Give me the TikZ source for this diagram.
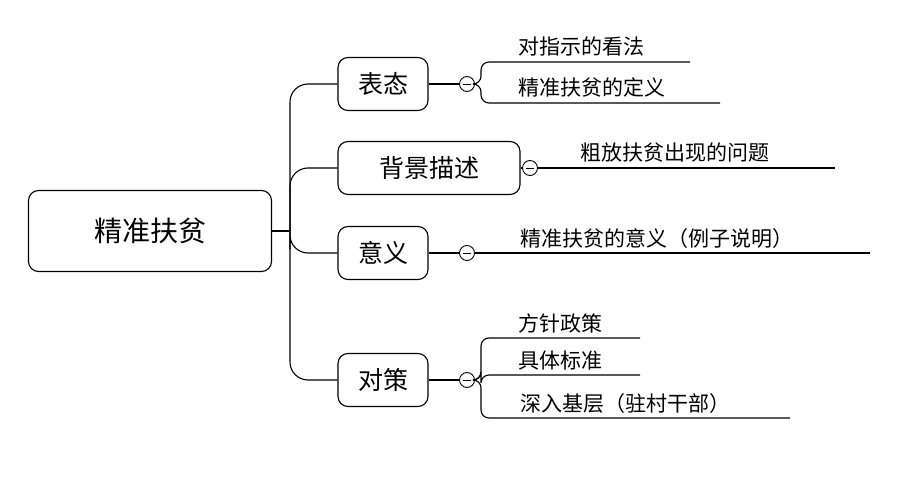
\documentclass[tikz,border=0pt]{standalone}
\usepackage{fontspec}
\newfontfamily\cjk{Noto Sans CJK SC}
\usetikzlibrary{positioning}

\begin{document}
\begin{tikzpicture}[x=1pt,y=-1pt,font=\cjk,line width=1.1pt]
	\tikzstyle{topic}=[draw,rounded corners=10pt,minimum height=53pt,inner sep=0pt]
	\tikzstyle{fold}=[draw,circle,minimum size=15pt,inner sep=0pt,line width=0.9pt]
	\tikzstyle{leaf}=[anchor=base west,inner sep=0pt,font=\cjk\fontsize{21}{21}\selectfont]
	\useasboundingbox (0,0) rectangle (915,481);
	% root and main topics
	\node [topic,minimum width=243pt,minimum height=81pt,font=\cjk\fontsize{28}{28}\selectfont] (root) at (150,231) {精准扶贫};
	\node [topic,minimum width=90pt,font=\cjk\fontsize{25}{25}\selectfont] (biao) at (383,84) {表态};
	\node [topic,minimum width=182pt,font=\cjk\fontsize{25}{25}\selectfont] (bei) at (429,168) {背景描述};
	\node [topic,minimum width=90pt,font=\cjk\fontsize{25}{25}\selectfont] (yi) at (383,253) {意义};
	\node [topic,minimum width=90pt,font=\cjk\fontsize{25}{25}\selectfont] (dui) at (383,380) {对策};
	\coordinate (trunk) at (290,231);
	\draw (root.east) -- (trunk);
	\draw [rounded corners=18pt] (biao.west) -| (trunk) |- (dui.west);
	\draw [rounded corners=18pt] (bei.west) -| (trunk) |- (yi.west);
	% fold markers
	\node [fold] (f1) at (467,84) {};
	\node [fold] (f2) at (530,168) {};
	\node [fold] (f3) at (467,253) {};
	\node [fold] (f4) at (467,380) {};
	\foreach \f/\t in {f1/biao,f2/bei,f3/yi,f4/dui}{
		\draw (\t.east) -- (\f.west);
		\draw [line width=0.9pt] ([xshift=-4pt]\f.center) -- ([xshift=4pt]\f.center);
	}
	% leaves
	\node [leaf] (l1) at (518,55) {对指示的看法};
	\node [leaf] (l2) at (518,96) {精准扶贫的定义};
	\node [leaf] (l3) at (580,161) {粗放扶贫出现的问题};
	\node [leaf] (l4) at (520,246) {精准扶贫的意义（例子说明）};
	\node [leaf] (l5) at (518,331) {方针政策};
	\node [leaf] (l6) at (518,368) {具体标准};
	\node [leaf] (l7) at (520,411) {深入基层（驻村干部）};
	\coordinate (u1) at (690,62);
	\coordinate (u2) at (720,103);
	\coordinate (u5) at (640,338);
	\coordinate (u6) at (640,375);
	\coordinate (u7) at (790,418);
	\draw [rounded corners=8pt] (f1.east) -- (481,84) |- (u1);
	\draw [rounded corners=8pt] (f1.east) -- (481,84) |- (u2);
	\draw (f2.east) -- (835,168);
	\draw (f3.east) -- (870,253);
	\draw [rounded corners=8pt] (f4.east) -- (481,380) |- (u5);
	\draw [rounded corners=8pt] (f4.east) -- (481,380) |- (u6);
	\draw [rounded corners=8pt] (f4.east) -- (481,380) |- (u7);
\end{tikzpicture}
\end{document}
